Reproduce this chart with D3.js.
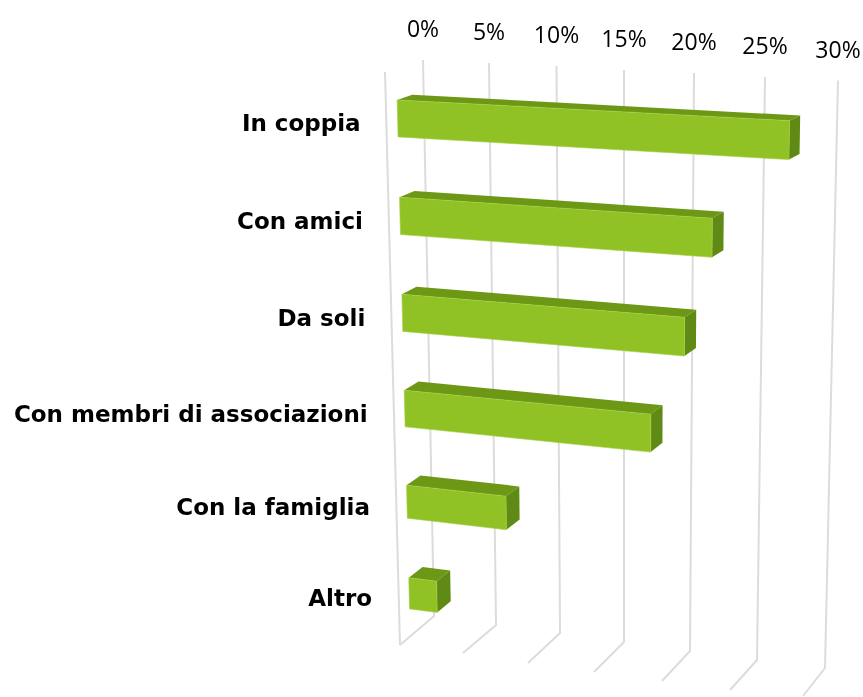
<!DOCTYPE html>
<html><head><meta charset="utf-8">
<script src="https://cdn.jsdelivr.net/npm/d3@7"></script>
<style>html,body{margin:0;padding:0;background:#fff}svg{display:block}</style>
</head><body><svg id="c" width="863" height="697"></svg>
<script>
const categories = ["In coppia ", "Con amici ", "Da soli ", "Con membri di associazioni ", "Con la famiglia", "Altro"];
const values = [28, 22.8, 20.9, 18.5, 7.7, 2.2];
const tickValues = [0, 5, 10, 15, 20, 25, 30];
const tickLabels = ["0%", "5%", "10%", "15%", "20%", "25%", "30%"];

// perspective frame: one piecewise scale per edge of the chart box
const edge = r => d3.scaleLinear().domain(tickValues).range(r);
const backTopX = edge([423, 489, 556.5, 624, 694, 765, 838]);
const backTopY = edge([60, 63, 66, 70, 73, 77, 80.5]);
const backBotX = edge([434, 496, 560, 624, 690, 757, 825]);
const backBotY = edge([616, 625, 633, 642, 651, 660, 668]);
const frontBotX = edge([400, 463, 528, 594, 662, 730, 803]);
const frontBotY = edge([645, 653, 663, 672, 681, 690, 696]);
const topShiftX = d3.scaleLinear().domain([0, 30]).range([38, 26]);
const topShiftY = 12;
const warp = d3.scaleLinear().domain([0, .09, .25, .42, .59, .76, .93, 1]).range([0, .091, .255, .428, .599, .765, .927, 1]);
const lerp = (a, b, k) => a + (b - a) * k;
function project(v, t, z) {
  const w = warp(t);
  const ftx = backTopX(v) - topShiftX(v), fty = backTopY(v) + topShiftY;
  const fx = lerp(ftx, frontBotX(v), w), fy = lerp(fty, frontBotY(v), w);
  const bx = lerp(backTopX(v), backBotX(v), w), by = lerp(backTopY(v), backBotY(v), w);
  return [lerp(fx, bx, z), lerp(fy, by, z)];
}
const row = d3.scaleBand().domain(categories).range([0.003, 1.01]).paddingInner(0.64).paddingOuter(0.32);
const thickness = d3.scaleLinear().domain([0, .6, 1]).range([0.064, 0.065, 0.053]);
const zFront = 0.3, zBack = 0.7;

const svg = d3.select("#c");
const defs = svg.append("defs");
defs.append("filter").attr("id", "soft").append("feGaussianBlur").attr("stdDeviation", 0.45);
const g = svg.append("g").attr("filter", "url(#soft)");
const line = d3.line();

// walls
const grid = g.append("g").attr("fill", "none").attr("stroke", "#dcdcdc").attr("stroke-width", 2);
grid.selectAll("path.wall").data(tickValues).join("path").attr("class", "wall")
  .attr("d", v => line([project(v, 0, 1), project(v, 1, 1), project(v, 1, 0)]));
grid.append("path").attr("d", line([project(0, 0, 0), project(0, 1, 0)]));

// bars
const bars = categories.map((c, i) => {
  const mid = row(c) + row.bandwidth() / 2, h = thickness(mid) / 2;
  return { c, v: values[i], t0: mid - h, t1: mid + h };
});
const bar = g.append("g").selectAll("g").data(bars).join("g");
bar.append("path").attr("fill", "#6c9816")
  .attr("d", d => line([project(0, d.t0, zFront), project(0, d.t0, zBack), project(d.v, d.t0, zBack), project(d.v, d.t0, zFront)]) + "Z");
bar.append("path").attr("fill", "#5f8a12")
  .attr("d", d => line([project(d.v, d.t0, zFront), project(d.v, d.t0, zBack), project(d.v, d.t1, zBack), project(d.v, d.t1, zFront)]) + "Z");
bar.append("path").attr("fill", "#90c226").attr("stroke", "#a4d040").attr("stroke-width", 0.6)
  .attr("d", d => line([project(0, d.t0, zFront), project(d.v, d.t0, zFront), project(d.v, d.t1, zFront), project(0, d.t1, zFront)]) + "Z");

// category labels
g.append("g").selectAll("text").data(bars).join("text")
  .attr("text-anchor", "end")
  .attr("x", d => project(0, (d.t0 + d.t1) / 2, zFront)[0] - 37)
  .attr("y", d => project(0, (d.t0 + d.t1) / 2, zFront)[1] + 13)
  .attr("font-family", "'DejaVu Sans'").attr("font-weight", 700).attr("font-size", 23)
  .attr("fill", "#000")
  .text(d => d.c.trim());

// tick labels
g.append("g").selectAll("text").data(tickValues).join("text")
  .attr("text-anchor", "middle")
  .attr("x", v => backTopX(v))
  .attr("y", v => backTopY(v) - 23)
  .attr("font-family", "'Open Sans'").attr("font-size", 23).attr("fill", "#000")
  .text((v, i) => tickLabels[i]);
</script></body></html>
